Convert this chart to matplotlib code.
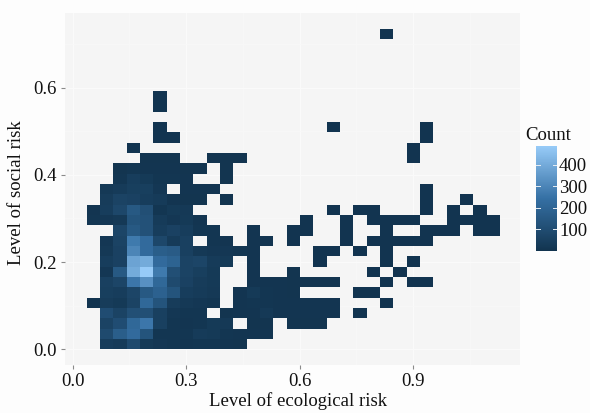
import numpy as np
import matplotlib
matplotlib.use("Agg")
import matplotlib.pyplot as plt
from matplotlib.colors import LinearSegmentedColormap

plt.rcParams['font.family'] = ['Liberation Serif', 'DejaVu Serif']

# Histogram counts, bottom row first; each row lists columns from the left, 0 = empty bin
row_00 = [0,40,30,90,25,15,12,8,10,12,8,5]
row_01 = [0,90,170,220,130,10,10,10,30,25,10,8,8,8]
row_02 = [0,60,100,210,260,50,10,8,12,25,20,0,5,5,0,5,5,5]
row_03 = [0,100,60,110,110,50,15,10,10,0,5,8,8,20,8,8,8,8,8,0,3]
row_04 = [3,35,25,60,210,130,35,20,15,10,0,8,10,12,8,8,8,8,8,0,0,0,3]
row_05 = [0,45,40,70,150,185,130,40,30,20,0,8,25,10,8,5,0,0,0,0,3,3]
row_06 = [0,50,70,260,330,210,90,55,35,25,0,0,8,8,8,5,5,5,5,0,0,0,3,0,3,3]
row_07 = [0,15,150,400,487,270,110,60,45,25,0,0,8,0,0,5,0,0,0,0,0,3,0,3]
row_08 = [0,40,55,380,400,220,190,60,70,30,25,0,8,0,0,0,0,3,0,0,0,0,3,0,3]
row_09 = [0,20,55,300,220,170,160,50,20,15,15,10,8,0,0,0,0,3,3,0,3,0,3]
row_10 = [0,15,60,270,220,80,30,50,0,10,8,0,8,8,0,3,0,0,0,3,0,3,3,3,3,3]
row_11 = [0,0,70,150,120,40,55,40,10,10,0,0,8,0,0,3,3,0,0,3,0,0,3,0,0,3,3,3,0,3,3]
row_12 = [10,15,20,130,120,30,15,25,8,0,0,0,0,0,0,0,3,0,0,3,0,3,3,3,3,0,0,3,3,3,3]
row_13 = [8,40,80,150,110,10,25,20,0,0,0,0,0,0,0,0,0,0,3,0,3,3,0,0,0,3,0,3,0,3]
row_14 = [0,35,60,55,40,30,8,5,5,0,5,0,0,0,0,0,0,0,0,0,0,0,0,0,0,3,0,0,3]
row_15 = [0,20,30,45,45,15,0,8,8,8,0,0,0,0,0,0,0,0,0,0,0,0,0,0,0,3]
row_16 = [0,0,10,40,25,10,10,8,0,0,5]
row_17 = [0,0,5,10,8,8,8,5,5,0,5]
row_18 = [0,0,0,0,5,5,5,0,0,5,5,5,0,0,0,0,0,0,0,0,0,0,0,0,3]
row_19 = [0,0,0,3,0,0,0,0,0,0,0,0,0,0,0,0,0,0,0,0,0,0,0,0,3]
row_20 = [0,0,0,0,0,3,3,0,0,0,0,0,0,0,0,0,0,0,0,0,0,0,0,0,0,3]
row_21 = [0,0,0,0,0,3,0,0,0,0,0,0,0,0,0,0,0,0,3,0,0,0,0,0,0,3]
row_22 = []
row_23 = [0,0,0,0,0,3]
row_24 = [0,0,0,0,0,3]
row_25 = []
row_26 = []
row_27 = []
row_28 = []
row_29 = []
row_30 = [0]*22 + [3]
rows = [row_00,row_01,row_02,row_03,row_04,row_05,row_06,row_07,row_08,row_09,row_10,
        row_11,row_12,row_13,row_14,row_15,row_16,row_17,row_18,row_19,row_20,row_21,
        row_22,row_23,row_24,row_25,row_26,row_27,row_28,row_29,row_30]

bin_w = 0.03527
bin_h = 0.0237
x_start = 0.0369
x_ticks = [0.0, 0.3, 0.6, 0.9]
y_ticks = [0.0, 0.2, 0.4, 0.6]
legend_ticks = [100, 200, 300, 400]
W, H = 590, 413

ncol = max(len(r) for r in rows)
Z = np.zeros((len(rows), ncol))
for i, r in enumerate(rows):
    Z[i, :len(r)] = r
Z = np.ma.masked_equal(Z, 0)
xe = x_start + bin_w*np.arange(ncol+1)
ye = bin_h*np.arange(len(rows)+1)

cmap = LinearSegmentedColormap.from_list('gg', ['#12344F', '#3570A4', '#97CBF8'])

fig = plt.figure(figsize=(W/100, H/100), dpi=100, facecolor='#FDFDFD')
def box(l, t, r, b):
    return [l/W, 1-b/H, (r-l)/W, (b-t)/H]

ax = fig.add_axes(box(65, 13, 520, 365))
ax.set_facecolor('#F5F5F5')
for s in ax.spines.values():
    s.set_visible(False)
ax.set_xlim(-0.0204, 1.183)
ax.set_ylim(-0.036, 0.771)
ax.set_axisbelow(True)
ax.set_xticks(x_ticks)
ax.set_yticks(y_ticks)
ax.set_xticklabels([f'{v:.1f}' for v in x_ticks])
ax.set_yticklabels([f'{v:.1f}' for v in y_ticks])
ax.set_xticks([0.15, 0.45, 0.75, 1.05], minor=True)
ax.set_yticks([0.1, 0.3, 0.5, 0.7], minor=True)
ax.grid(which='major', color='#FAFAFA', lw=0.9)
ax.grid(which='minor', color='#F8F8F8', lw=0.6)
ax.tick_params(which='major', length=3, width=0.8, color='#8A8A8A', labelsize=13.5, pad=3, labelcolor='#111111')
ax.tick_params(which='minor', length=0)

mesh = ax.pcolormesh(xe, ye, Z, cmap=cmap, vmin=1, vmax=487, edgecolors='none', linewidth=0, rasterized=True)

fig.text(298/W, 1-401/H, 'Level of ecological risk', ha='center', va='center', fontsize=13.5, color='#111111')
fig.text(16.5/W, 1-192.5/H, 'Level of social risk', rotation=90, ha='center', va='center', fontsize=13.5, color='#111111')

cax = fig.add_axes(box(536, 146, 557, 250.7))
cb = fig.colorbar(mesh, cax=cax)
cb.outline.set_visible(False)
cb.set_ticks(legend_ticks)
cax.tick_params(length=0, labelsize=13.5, pad=1.5, labelcolor='#111111')
for v in legend_ticks:
    cax.plot([0, 0.2], [v, v], transform=cax.get_yaxis_transform(), color='#E8EEF4', lw=0.7)
    cax.plot([0.8, 1], [v, v], transform=cax.get_yaxis_transform(), color='#E8EEF4', lw=0.7)
fig.text(525/W, 1-135/H, 'Count', ha='left', va='center', fontsize=13.5, color='#111111')

fig.savefig('out.png', dpi=100, facecolor=fig.get_facecolor())
